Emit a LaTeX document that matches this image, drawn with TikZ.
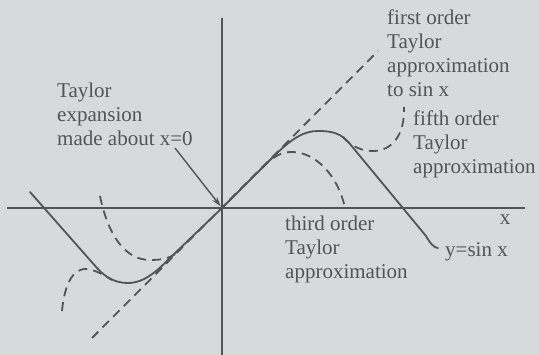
\documentclass[tikz,border=0pt]{standalone}
\usepackage{fontspec}
\setmainfont{Liberation Serif}
\usetikzlibrary{arrows.meta}
\definecolor{bgc}{RGB}{216,217,219}
\definecolor{ink}{RGB}{84,84,84}
\begin{document}
\begin{tikzpicture}[x=1pt,y=-1pt,
  axis/.style={line width=1.9pt, draw=ink},
  curve/.style={line width=1.8pt, draw=ink, line cap=round, line join=round},
  approx/.style={line width=1.8pt, draw=ink, dash pattern=on 9pt off 6pt},
  lbl/.style={text=ink, font=\fontsize{21}{23.7}\selectfont, inner sep=0pt, align=left, anchor=north west},
  pointer/.style={line width=1.4pt, draw=ink, -{Stealth[length=10pt,width=6pt]}, shorten >=2pt},
]
\path[use as bounding box, fill=bgc] (0,0) rectangle (539,355);

% axes
\coordinate (O) at (222,208);
\coordinate (xl) at (7,208);
\coordinate (xr) at (525,208);
\coordinate (yt) at (222,18);
\coordinate (yb) at (222,355);
\draw[axis] (xl) -- (xr);
\draw[axis] (yt) -- (yb);

% first order approximation
\coordinate (f1a) at (92,338);
\coordinate (f1b) at (378,51);
\draw[approx] (f1a) -- (f1b);

% y = sin x
\draw[curve] (30,192) -- (97,268) .. controls (107,279) and (117,283) .. (128,283)
  .. controls (145,283) and (158,270) .. (172,256) -- (O)
  -- (272,158) .. controls (292,138) and (304,131) .. (318,131)
  .. controls (332,131) and (341,133) .. (350,144) -- (426,236)
  .. controls (430,243) and (434,248) .. (438,248);

% third order approximation
\draw[approx] (262,168) .. controls (275,155) and (282,152) .. (292,152)
  .. controls (315,152) and (338,175) .. (345,208);
\draw[approx] (100,196) .. controls (108,235) and (125,260) .. (150,260)
  .. controls (163,260) and (172,258) .. (180,250);

% fifth order approximation
\draw[approx] (343,137) .. controls (352,147) and (362,151) .. (373,151)
  .. controls (392,151) and (405,135) .. (404,107);
\draw[approx] (62,311) .. controls (64,290) and (70,270) .. (85,269)
  .. controls (95,269) and (105,276) .. (112,280);

% labels
\node[lbl] (tay) at (57,83) {Taylor\\expansion\\made about x=0};
\node[lbl] (first) at (387,10) {first order\\Taylor\\approximation\\to sin x};
\node[lbl] (fifth) at (413,111) {fifth order\\Taylor\\approximation};
\node[lbl] (third) at (285,216) {third order\\Taylor\\approximation};
\node[lbl, anchor=base] (xlab) at (505,225) {x};
\node[lbl, anchor=base west] (sinlab) at (445,257) {y=sin x};

\coordinate (tayarrow) at (175,148);
\draw[pointer] (tayarrow) -- (O);
\end{tikzpicture}
\end{document}
